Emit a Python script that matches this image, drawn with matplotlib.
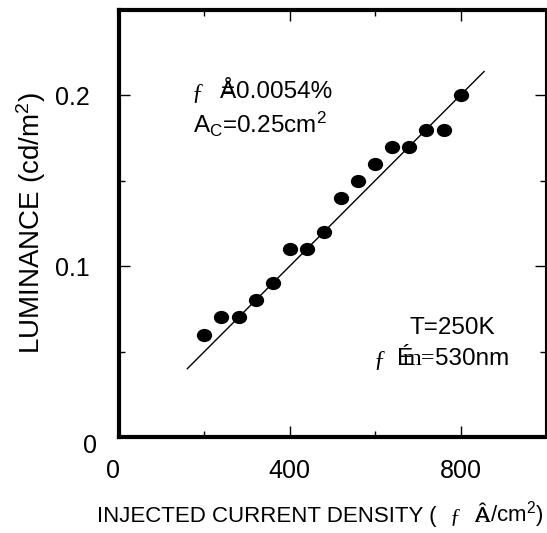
#!/usr/bin/env python3
# luminance vs injected current density, scanned-figure style

import matplotlib
matplotlib.use('Agg')
import matplotlib.pyplot as plt
from matplotlib.path import Path
from matplotlib.transforms import Affine2D, ScaledTranslation

plt.rcParams['font.family'] = ['Liberation Sans', 'DejaVu Sans']
plt.rcParams['mathtext.fontset'] = 'custom'
plt.rcParams['mathtext.rm'] = 'Liberation Sans'
plt.rcParams['mathtext.it'] = 'Liberation Sans:italic'
plt.rcParams['mathtext.bf'] = 'Liberation Sans:bold'

# data
current = [200, 240, 280, 320, 360, 400, 440, 480, 520, 560, 600, 640, 680, 720, 760, 800]
luminance = [0.06, 0.07, 0.07, 0.08, 0.09, 0.11, 0.11, 0.12, 0.14, 0.15, 0.16, 0.17, 0.17, 0.18, 0.18, 0.20]
fit_current = [160, 855]
fit_luminance = [0.040, 0.214]

x_major = [0, 400, 800]
x_minor = [200, 600]
y_major = [0, 0.1, 0.2]
y_minor = [0.05, 0.15]
y_labels = ['0', '0.1', '0.2']

W, H = 547, 533
fig = plt.figure(figsize=(W / 100, H / 100), dpi=100)
ax = fig.add_axes([119 / W, 96 / H, 427 / W, 427 / H])

# dots are a bit wider than tall
dot = Path.unit_circle().transformed(Affine2D().scale(1.0, 0.85))
ax.plot(current, luminance, linestyle='none', marker=dot, ms=10, color='black')
ax.plot(fit_current, fit_luminance, color='black', lw=1)

ax.set_xlim(0, 1000)
ax.set_ylim(0, 0.25)
ax.set_xticks(x_major)
ax.set_xticks(x_minor, minor=True)
ax.set_yticks(y_major, y_labels)
ax.set_yticks(y_minor, minor=True)

for side in ['left', 'top', 'bottom']:
    ax.spines[side].set_linewidth(3)
ax.spines['right'].set_linewidth(1.5)

ax.tick_params(which='both', direction='in', top=True, right=True, width=1, labelsize=18)
ax.tick_params(which='major', length=8)
ax.tick_params(which='minor', length=4.5)
ax.tick_params(axis='x', pad=16)
ax.tick_params(axis='y', pad=21)

# the two zeros sit a little off their ticks
lab = ax.yaxis.get_major_ticks()[0].label1
lab.set_transform(lab.get_transform() + ScaledTranslation(5 / 72, -5 / 72, fig.dpi_scale_trans))
lab = ax.xaxis.get_major_ticks()[0].label1
lab.set_transform(lab.get_transform() + ScaledTranslation(-4.5 / 72, 0, fig.dpi_scale_trans))

ax.set_ylabel('LUMINANCE (cd/m$^2$)', fontsize=20, labelpad=5)

SANS = ['Liberation Sans', 'DejaVu Sans']
SERIF = ['Liberation Serif', 'DejaVu Serif']


def text_run(y_px, pieces, size):
    # pieces: (x in px or None to follow on, text, family, overprint previous?)
    renderer = fig.canvas.get_renderer()
    x_px = 0
    prev = None
    for x, s, family, over in pieces:
        if over:
            cx = (prev.x0 + prev.x1) / 2
            fig.text(cx / W, 1 - y_px / H, s, fontsize=size, family=family,
                     ha='center', va='baseline')
            continue
        if x is not None:
            x_px = x
        t = fig.text(x_px / W, 1 - y_px / H, s, fontsize=size, family=family,
                     ha='left', va='baseline')
        prev = t.get_window_extent(renderer)
        x_px = prev.x1


text_run(98, [(192, 'ƒ', SERIF, False),
              (220, 'Å', SANS, False),
              (None, '=', SANS, True),
              (None, '0.0054%', SANS, False)], 17.5)
text_run(133, [(193, r'A$_\mathrm{C}$=0.25cm$^2$', SANS, False)], 17.5)
text_run(334, [(409, 'T=250K', SANS, False)], 17.5)
text_run(365, [(374, 'ƒ', SERIF, False),
               (397, 'É', SANS, False),
               (403, 'm=', SERIF, False),
               (None, '530nm', SANS, False)], 17.5)

text_run(522, [(97, 'INJECTED CURRENT DENSITY (', SANS, False),
               (450, 'ƒ', SERIF, False),
               (475, 'Â', SANS, False),
               (None, 'A', SERIF, True),
               (None, '/cm$^2$)', SANS, False)], 16)

fig.savefig('out.png', dpi=100)
